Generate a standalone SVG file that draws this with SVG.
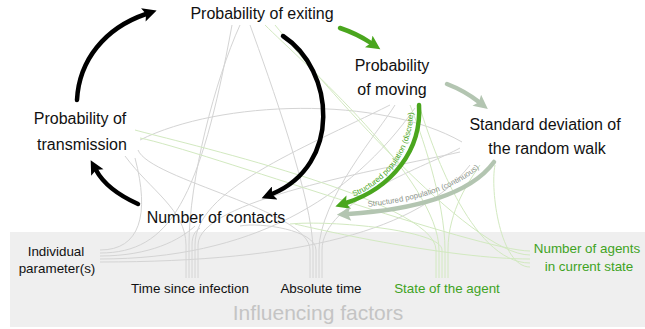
<svg xmlns="http://www.w3.org/2000/svg" width="645" height="329" viewBox="0 0 645 329">
<style>
text{font-family:"Liberation Sans",Arial,sans-serif}
.node{font-size:16px;fill:#111;text-anchor:middle}
.fac{font-size:13.4px;fill:#111;text-anchor:middle}
.facg{font-size:13.4px;fill:#3fa31f;text-anchor:middle}
.fg{fill:none;stroke:#d4d4d4;stroke-width:1}
.fgr{fill:none;stroke:#d2e9c0;stroke-width:1}
.blk{fill:none;stroke:#000;stroke-width:4.5;stroke-linecap:round}
.grn{fill:none;stroke:#4aa61e;stroke-width:4.5;stroke-linecap:round}
.gg{fill:none;stroke:#b3c5b1;stroke-width:4.5;stroke-linecap:round}
.lbl{font-size:7.8px}
</style>
<defs>
<marker id="hb" viewBox="0 0 10 10" refX="2" refY="5" markerWidth="15" markerHeight="14" markerUnits="userSpaceOnUse" orient="auto"><path d="M0,0 L10,5 L0,10 L2,5 z" fill="#000"/></marker>
<marker id="hg" viewBox="0 0 10 10" refX="2" refY="5" markerWidth="15" markerHeight="14" markerUnits="userSpaceOnUse" orient="auto"><path d="M0,0 L10,5 L0,10 L2,5 z" fill="#4aa61e"/></marker>
<marker id="hgg" viewBox="0 0 10 10" refX="2" refY="5" markerWidth="15" markerHeight="14" markerUnits="userSpaceOnUse" orient="auto"><path d="M0,0 L10,5 L0,10 L2,5 z" fill="#b3c5b1"/></marker>
<path id="tp1" d="M350,198 C388,184 417,148 413,100"/>
<path id="tp2" d="M352,208 C412,204 466,189 490,156"/>
</defs>
<rect x="10" y="232" width="635" height="95" fill="#efefef"/>
<g id="influence-lines">
<path class="fg" d="M100,250 C140,250 150,215 135,158"/>
<path class="fg" d="M100,253 C170,253 200,200 232,25"/>
<path class="fg" d="M100,256 C150,256 180,240 195,226"/>
<path class="fg" d="M100,259 C250,259 350,200 415,108"/>
<path class="fg" d="M100,262 C300,262 420,230 470,165"/>
<path class="fg" d="M186,278 L186,245 C186,210 150,190 125,156"/>
<path class="fg" d="M189,278 L189,245 C189,180 215,80 240,25"/>
<path class="fg" d="M192,278 L192,245 C192,236 195,231 200,228"/>
<path class="fg" d="M195,278 L195,245 C195,190 300,150 390,105"/>
<path class="fg" d="M198,278 L198,245 C198,200 380,170 460,152"/>
<path class="fg" d="M310,278 L310,250 C310,210 150,180 138,150"/>
<path class="fg" d="M313,278 L313,250 C313,200 270,80 250,25"/>
<path class="fg" d="M316,278 L316,250 C316,230 260,222 240,226"/>
<path class="fg" d="M319,278 L319,250 C319,200 380,130 395,105"/>
<path class="fg" d="M322,278 L322,250 C322,200 430,165 460,148"/>
<path class="fg" d="M140,140 C220,100 380,95 462,142"/>
<path class="fgr" d="M436,278 L436,250 C436,200 170,140 135,130"/>
<path class="fgr" d="M439,278 L439,250 C439,180 300,60 265,25"/>
<path class="fgr" d="M442,278 L442,250 C442,230 330,220 290,224"/>
<path class="fgr" d="M445,278 L445,250 C445,200 420,130 410,105"/>
<path class="fgr" d="M448,278 L448,250 C448,210 470,180 480,165"/>
<path class="fgr" d="M530,251 C480,251 200,150 140,138"/>
<path class="fgr" d="M530,255 C470,255 320,80 275,25"/>
<path class="fgr" d="M530,259 C450,259 320,230 295,224"/>
<path class="fgr" d="M530,263 C470,263 430,140 420,108"/>
<path class="fgr" d="M530,267 C500,267 490,190 495,165"/>
</g>
<g id="connectors">
<path class="blk" d="M77,100 C79,60 105,28 146,14" marker-end="url(#hb)"/>
<path class="blk" d="M283,36 C335,70 342,165 272,194" marker-end="url(#hb)"/>
<path class="blk" d="M138,204 C118,195 103,183 96,170" marker-end="url(#hb)"/>
<path class="grn" d="M340,28 C352,32 362,37 371,43" marker-end="url(#hg)"/>
<path class="gg" d="M447,84 C460,89 470,95 479,102" marker-end="url(#hgg)"/>
<path class="grn" d="M419,105 C422,150 392,188 346,203" marker-end="url(#hg)"/>
<path class="gg" d="M494,162 C470,195 412,210 348,214" marker-end="url(#hgg)"/>
<text class="lbl" fill="#4aa61e"><textPath href="#tp1" startOffset="4">Structured population (discrete)</textPath></text>
<text class="lbl" fill="#8e958d"><textPath href="#tp2" startOffset="16">Structured population (continuous)</textPath></text>
</g>
<g id="n-exiting"><text class="node" x="262" y="19">Probability of exiting</text></g>
<g id="n-moving"><text class="node" x="392" y="71">Probability</text><text class="node" x="392" y="95">of moving</text></g>
<g id="n-stddev"><text class="node" x="545" y="130">Standard deviation of</text><text class="node" x="547" y="154">the random walk</text></g>
<g id="n-transmission"><text class="node" x="80" y="124">Probability of</text><text class="node" x="82" y="150">transmission</text></g>
<g id="n-contacts"><text class="node" x="216" y="223">Number of contacts</text></g>
<g id="f-individual"><text class="fac" x="56" y="256">Individual</text><text class="fac" x="57" y="273">parameter(s)</text></g>
<g id="f-time-infection"><text class="fac" x="190" y="293">Time since infection</text></g>
<g id="f-absolute"><text class="fac" x="321" y="293">Absolute time</text></g>
<g id="f-state"><text class="facg" x="447" y="293">State of the agent</text></g>
<g id="f-agents"><text class="facg" x="587" y="253">Number of agents</text><text class="facg" x="589" y="271">in current state</text></g>
<g id="title"><text x="318" y="320" font-size="21" fill="#c4c4c4" text-anchor="middle">Influencing factors</text></g>
</svg>
